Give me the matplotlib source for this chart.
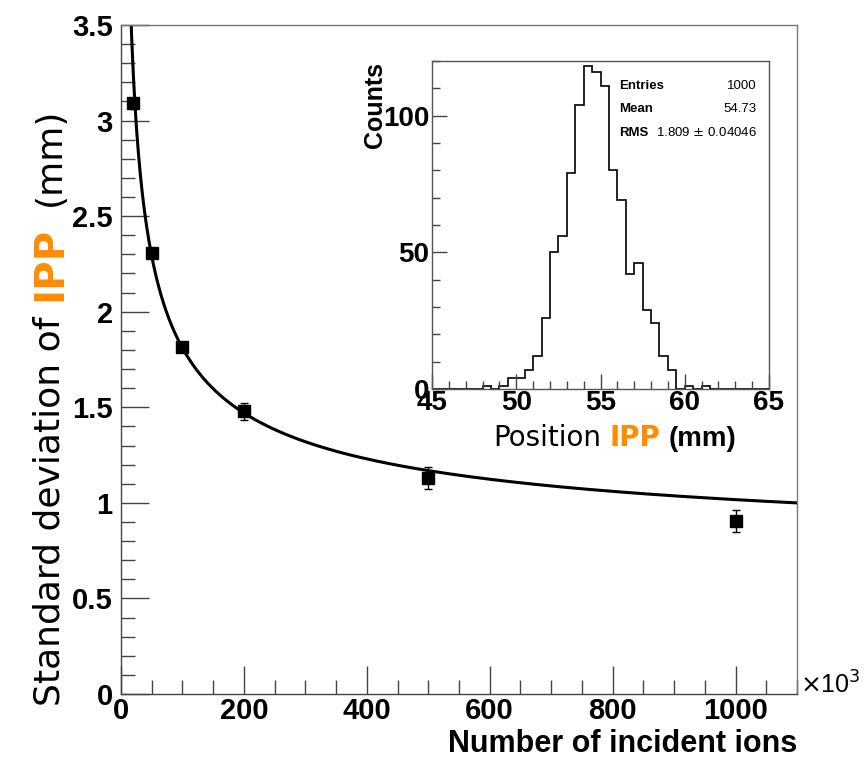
import numpy as np
import matplotlib
matplotlib.use("Agg")
import matplotlib.pyplot as plt
from matplotlib.ticker import MultipleLocator

# main graph: standard deviation vs number of incident ions (x in units of 10^3)
n_ions = [20, 50, 100, 200, 500, 1000]
sigma = [3.09, 2.305, 1.815, 1.48, 1.13, 0.905]
sigma_err = [0.03, 0.02, 0.025, 0.045, 0.055, 0.06]

# fit: sigma = a / sqrt(N) + c
fit_a = 11.6
fit_c = 0.65

# inset histogram of IPP position
bin_edges = np.arange(45, 65.01, 0.5)
counts = [0, 0, 0, 0, 0, 0, 1, 0, 1, 4, 4, 7, 12, 26, 50, 56, 79, 104, 118, 116,
          111, 80, 69, 42, 46, 29, 24, 12, 7, 0, 1, 0, 1, 0, 0, 0, 0, 0, 0, 0]
stats = [("Entries", "1000"), ("Mean", "54.73"), ("RMS", "1.809 $\\pm$ 0.04046")]

orange = "#ff8c00"
frame = "#444444"
tick_font = dict(family="Liberation Sans", weight="bold", size=21)
inset_tick_font = dict(family="Liberation Sans", weight="bold", size=20)

W, H = 866, 761
fig = plt.figure(figsize=(W / 100, H / 100), dpi=100)
ax = fig.add_axes([121 / W, 1 - 694 / H, (797 - 121) / W, (694 - 25) / H])

xs = np.linspace(8, 1100, 800)
ax.plot(xs, fit_a / np.sqrt(xs) + fit_c, color="black", lw=2.2, zorder=2)
ax.errorbar(n_ions, sigma, yerr=sigma_err, fmt="s", color="black", ms=8,
            ecolor="black", elinewidth=1, capsize=3, capthick=1, zorder=3)

ax.set_xlim(0, 1100)
ax.set_ylim(0, 3.5)
ax.xaxis.set_minor_locator(MultipleLocator(50))
ax.yaxis.set_minor_locator(MultipleLocator(0.1))
ax.set_xticks([0, 200, 400, 600, 800, 1000])
ax.set_xticklabels(["0", "200", "400", "600", "800", "1000"])
ax.set_yticks([0, 0.5, 1, 1.5, 2, 2.5, 3, 3.5])
ax.set_yticklabels(["0", "0.5", "1", "1.5", "2", "2.5", "3", "3.5"])
ax.tick_params(which="both", direction="in", color=frame, width=1)
ax.tick_params(which="major", length=20)
ax.tick_params(which="minor", length=10)
ax.tick_params(axis="x", pad=2)
ax.tick_params(axis="y", pad=6)
for lab in ax.get_xticklabels() + ax.get_yticklabels():
    lab.set_fontproperties(tick_font)
for s in ax.spines.values():
    s.set_color(frame)
    s.set_linewidth(1)
ax.spines["top"].set_color("#777777")
ax.spines["right"].set_color("#777777")

fig.text(800 / W, 1 - 694 / H, r"$\times$10$^3$", fontsize=18,
         family="Liberation Sans", ha="left", va="baseline")
fig.text(797 / W, 1 - 752 / H, "Number of incident ions", ha="right", va="baseline",
         family="Liberation Sans", weight="bold", fontsize=22)

# y label in three pieces (orange IPP)
t1 = fig.text(50 / W, 1 - 706 / H, "Standard deviation of", rotation=90,
              ha="center", va="bottom", family="DejaVu Sans", fontsize=26)
t2 = ax.annotate("IPP", xy=(0.5, 1), xycoords=t1, xytext=(0, 11),
                 textcoords="offset points", rotation=90, ha="center", va="bottom",
                 color=orange, family="DejaVu Sans", weight="bold", fontsize=29,
                 annotation_clip=False)
ax.annotate("(mm)", xy=(0.5, 1), xycoords=t2, xytext=(0, 15),
            textcoords="offset points", rotation=90, ha="center", va="bottom",
            family="DejaVu Sans", fontsize=26, annotation_clip=False)

# inset
ins = fig.add_axes([432 / W, 1 - 389 / H, (769 - 432) / W, (389 - 61) / H])
ins.stairs(counts, bin_edges, color="black", lw=1.2, baseline=0)
ins.set_xlim(45, 65)
ins.set_ylim(0, 120)
ins.set_xticks([45, 50, 55, 60, 65])
ins.set_xticklabels(["45", "50", "55", "60", "65"])
ins.xaxis.set_minor_locator(MultipleLocator(1))
ins.set_yticks([0, 50, 100])
ins.set_yticklabels(["0", "50", "100"])
ins.yaxis.set_minor_locator(MultipleLocator(10))
ins.tick_params(which="both", direction="in", color=frame, width=1)
ins.tick_params(which="major", length=11)
ins.tick_params(which="minor", length=6)
ins.tick_params(axis="x", pad=1)
ins.tick_params(axis="y", pad=2)
for lab in ins.get_xticklabels() + ins.get_yticklabels():
    lab.set_fontproperties(inset_tick_font)
for s in ins.spines.values():
    s.set_color("#555555")
    s.set_linewidth(1)

for i, (name, val) in enumerate(stats):
    y = 1 - (86 + 23.5 * i) / H
    fig.text(619 / W, y, name, ha="left", va="center", family="Liberation Sans",
             weight="bold", fontsize=9.5)
    fig.text(757 / W, y, val, ha="right", va="center", family="Liberation Sans",
             fontsize=9.5)

fig.text(375 / W, 1 - 105 / H, "Counts", rotation=90, ha="center", va="center",
         family="Liberation Sans", weight="bold", fontsize=18)

p1 = fig.text(493 / W, 1 - 446 / H, "Position", ha="left", va="baseline",
              family="DejaVu Sans", fontsize=20)
p2 = ax.annotate("IPP", xy=(1, 0), xycoords=p1, xytext=(6, 0),
                 textcoords="offset points", ha="left", va="bottom", color=orange,
                 family="DejaVu Sans", weight="bold", fontsize=20, annotation_clip=False)
ax.annotate("(mm)", xy=(1, 0), xycoords=p2, xytext=(6, 0),
            textcoords="offset points", ha="left", va="bottom",
            family="Liberation Sans", weight="bold", fontsize=20, annotation_clip=False)

fig.savefig("out.png", dpi=100)
